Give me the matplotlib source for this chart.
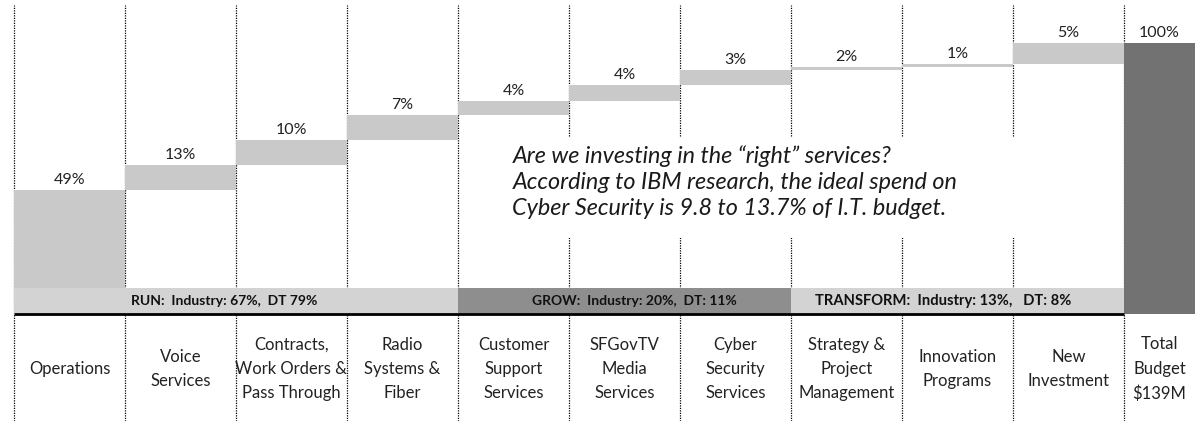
import matplotlib
matplotlib.use("Agg")
import matplotlib.pyplot as plt
import numpy as np
from matplotlib.patches import Rectangle

# ---------------- data ----------------
categories = ["Operations", "Voice\nServices", "Contracts,\nWork Orders &\nPass Through",
              "Radio\nSystems &\nFiber", "Customer\nSupport\nServices", "SFGovTV\nMedia\nServices",
              "Cyber\nSecurity\nServices", "Strategy &\nProject\nManagement",
              "Innovation\nPrograms", "New\nInvestment", "Total\nBudget\n$139M"]
share_pct = [49, 13, 10, 7, 4, 4, 3, 2, 1, 5, 100]
# step heights as drawn in the original picture (the original is not to scale)
drawn_steps = [124, 25, 25, 25, 14, 16, 15, 3, 3, 21]
group_labels = ["RUN:  Industry: 67%,  DT 79%", "GROW:  Industry: 20%,  DT: 11%",
                "TRANSFORM:  Industry: 13%,   DT: 8%"]
group_first = [0, 4, 7]
group_last = [3, 6, 9]
note = ("Are we investing in the \u201cright\u201d services?\n"
        "According to IBM research, the ideal spend on\n"
        "Cyber Security is 9.8 to 13.7% of I.T. budget.")

# ---------------- style ----------------
FONT = "Lato"
light = "#c9c9c9"
band_light = "#d3d3d3"
band_dark = "#8e8e8e"
dark = "#727272"

fig = plt.figure(figsize=(11.95, 4.21), dpi=100)
ax = fig.add_axes([0, 0, 1, 1])
ax.set_xlim(-0.626, 10.14)
ax.set_ylim(-107, 314)
ax.axis("off")

n = len(drawn_steps)
x = np.arange(n)
bottoms = np.concatenate([[0], np.cumsum(drawn_steps)[:-1]])
tops = bottoms + np.array(drawn_steps)
total = float(np.sum(drawn_steps))

# dotted column separators
for e in np.arange(-0.5, n + 0.5, 1.0):
    ax.axvline(e, ymin=0, ymax=0.988, color="black", lw=0.9,
               linestyle=(0, (1, 1)), zorder=1)

# white box behind the note
ax.add_patch(Rectangle((3.75, 76), 5.45, 101, facecolor="white", edgecolor="none", zorder=1.5))

# waterfall steps
ax.bar(x, drawn_steps, bottom=bottoms, width=1.0, color=light, zorder=2)
# total
ax.bar([n], [total], width=1.0, color=dark, zorder=4)

# bands
band_h = 26
for lab, a, b, col in zip(group_labels, group_first, group_last,
                          [band_light, band_dark, band_light]):
    ax.add_patch(Rectangle((a - 0.5, 0), b - a + 1, band_h, facecolor=col,
                           edgecolor="none", zorder=3))
ax.plot([-0.5, n - 0.5], [0, 0], color="black", lw=2, zorder=5, solid_capstyle="butt")

band_text_x = [0.55, 5.09, 7.87]
band_ha = ["left", "center", "center"]
band_fs = [10, 10, 10.6]
for lab, bx, ha, fs in zip(group_labels, band_text_x, band_ha, band_fs):
    ax.text(bx, band_h / 2, lab, ha=ha, va="center", fontsize=fs, fontweight="bold",
            family=FONT, color="#111111", zorder=6)

# value labels
label_x = list(x) + [(n - 0.5 + ax.get_xlim()[1]) / 2]
label_top = list(tops) + [total]
for lx, ly, p in zip(label_x, label_top, share_pct):
    ax.annotate(f"{p}%", (lx, ly), xytext=(0, 2), textcoords="offset points",
                ha="center", va="bottom", fontsize=11.5, family=FONT, color="#222222", zorder=6)

# category labels
for lx, c in zip(label_x, categories):
    ax.text(lx, -55, c, ha="center", va="center", fontsize=12, family=FONT,
            color="#222222", linespacing=1.63)

# note
ax.text(3.99, 132, note, ha="left", va="center", fontsize=16.8, family=FONT,
        style="italic", color="#1a1a1a", linespacing=1.27, zorder=6)

fig.savefig("out.png", dpi=100, facecolor="white")
